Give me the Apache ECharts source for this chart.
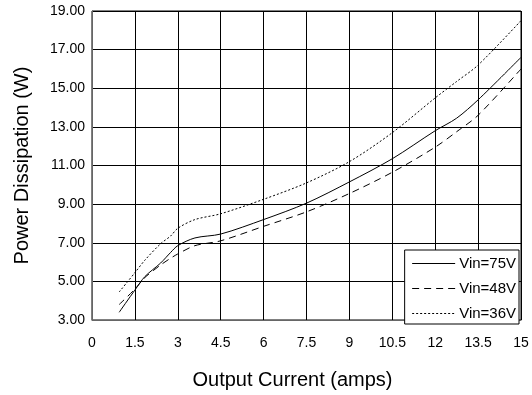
<!DOCTYPE html>
<html>
<head>
<meta charset="utf-8">
<script src="https://cdn.jsdelivr.net/npm/echarts@6/dist/echarts.min.js"></script>
<style>
html,body{margin:0;padding:0;background:#fff;}
#chart{width:532px;height:395px;}
</style>
</head>
<body>
<div id="chart"></div>
<script>
// Output current (amps) sample positions shared by all curves
var currentAmps = [0.95, 1.5, 1.85, 2.4, 2.75, 3, 3.6, 4.5, 6, 7.5, 9, 10.5, 12, 12.75, 13.5, 15];
// Power dissipation (W)
var vin75 = [3.4, 4.55, 5.25, 5.95, 6.5, 6.85, 7.25, 7.45, 8.2, 9.05, 10.15, 11.35, 12.8, 13.45, 14.4, 16.6];
var vin48 = [3.8, 4.6, 5.2, 5.85, 6.2, 6.42, 6.85, 7.1, 7.85, 8.6, 9.55, 10.65, 11.95, 12.75, 13.6, 16.0];
var vin36 = [4.45, 5.45, 6.1, 6.95, 7.35, 7.75, 8.2, 8.5, 9.25, 10.1, 11.2, 12.7, 14.5, 15.35, 16.2, 18.5];
var seriesNames = ['Vin=75V', 'Vin=48V', 'Vin=36V'];
var xTitle = 'Output Current (amps)';
var yTitle = 'Power Dissipation (W)';

function pairs(ys){ return currentAmps.map(function(x,i){ return [x, ys[i]]; }); }

var FONT = 'Liberation Sans, Arial, sans-serif';
var chart = echarts.init(document.getElementById('chart'), null, {renderer:'canvas'});
chart.setOption({
  animation:false,
  backgroundColor:'#fff',
  textStyle:{fontFamily:FONT, color:'#000'},
  grid:{left:92, top:11, width:429, height:312, show:true, borderColor:'#000', borderWidth:1, containLabel:false},
  legend:{
    orient:'vertical', right:13, bottom:71,
    backgroundColor:'#fff', borderColor:'#000', borderWidth:1,
    padding:[6,3,3,7], itemWidth:43, itemHeight:14, itemGap:10,
    itemStyle:{opacity:0},
    lineStyle:{width:1},
    textStyle:{fontFamily:FONT, fontSize:15, color:'#000', padding:[0,0,0,-1]},
    data:seriesNames
  },
  xAxis:{
    type:'value', min:0, max:15, interval:1.5,
    name:xTitle, nameLocation:'middle', nameGap:50,
    nameTextStyle:{fontFamily:FONT, fontSize:20, color:'#000', padding:[0,28,0,0]},
    axisLine:{show:true, lineStyle:{color:'#666', width:1}},
    axisTick:{show:false},
    axisLabel:{fontFamily:FONT, fontSize:14, color:'#000', margin:16},
    splitLine:{show:true, lineStyle:{color:'#000', width:1}}
  },
  yAxis:{
    type:'value', min:3, max:19, interval:2,
    name:yTitle, nameLocation:'middle', nameGap:60,
    nameTextStyle:{fontFamily:FONT, fontSize:20, color:'#000'},
    axisLine:{show:true, lineStyle:{color:'#666', width:1}},
    axisTick:{show:false},
    axisLabel:{fontFamily:FONT, fontSize:14, color:'#000', margin:7, formatter:function(v){return v.toFixed(2);}},
    splitLine:{show:true, lineStyle:{color:'#000', width:1}}
  },
  series:[
    {name:seriesNames[0], type:'line', data:pairs(vin75), symbol:'none', smooth:0.3,
     lineStyle:{color:'#000', width:1, type:'solid'}, itemStyle:{color:'#000'}},
    {name:seriesNames[1], type:'line', data:pairs(vin48), symbol:'none', smooth:0.3,
     lineStyle:{color:'#000', width:1, type:[7,5]}, itemStyle:{color:'#000'}},
    {name:seriesNames[2], type:'line', data:pairs(vin36), symbol:'none', smooth:0.3,
     lineStyle:{color:'#000', width:1, type:[2,2]}, itemStyle:{color:'#000'}}
  ]
});
</script>
</body>
</html>
